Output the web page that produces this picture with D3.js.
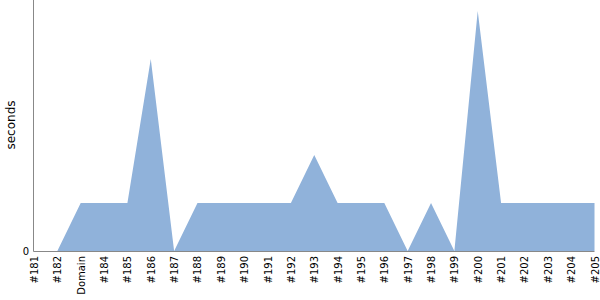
<!DOCTYPE html>
<html>
<head>
<meta charset="utf-8">
<script src="https://cdn.jsdelivr.net/npm/d3@7"></script>
<style>
  body { margin: 0; background: #fff; }
  .axis path { stroke: #888; }
</style>
</head>
<body>
<svg id="chart" width="600" height="300"></svg>
<script>
// builds, left to right
var builds = ["#181", "#182", "Domain", "#184", "#185", "#186", "#187", "#188", "#189",
  "#190", "#191", "#192", "#193", "#194", "#195", "#196", "#197", "#198", "#199",
  "#200", "#201", "#202", "#203", "#204", "#205"];

// duration per build (seconds)
var seconds = [0, 0, 1, 1, 1, 4, 0, 1, 1, 1, 1, 1, 2, 1, 1, 1, 0, 1, 0, 5, 1, 1, 1, 1, 1];

var yMax = 5.23;
var font = "DejaVu Sans";

var margin = { top: 0, right: 5, bottom: 49, left: 33 },
    width = 600 - margin.left - margin.right,
    height = 300 - margin.top - margin.bottom;

var svg = d3.select("#chart");
var g = svg.append("g")
  .attr("transform", "translate(" + margin.left + "," + margin.top + ")");

var x = d3.scalePoint()
  .domain(builds)
  .range([1, width - 0.5]);

var y = d3.scaleLinear()
  .domain([0, yMax])
  .range([height, 0]);

var rows = builds.map(function (b, i) { return { build: b, value: seconds[i] }; });

var area = d3.area()
  .x(function (d) { return x(d.build); })
  .y0(height)
  .y1(function (d) { return y(d.value); });

g.append("path")
  .datum(rows)
  .attr("fill", "#90b2da")
  .attr("d", area);

// x axis
var xAxis = g.append("g")
  .attr("class", "axis")
  .attr("transform", "translate(0," + height + ")")
  .call(d3.axisBottom(x).tickSize(0).tickPadding(0))
  .attr("font-family", font)
  .attr("font-size", 10);
xAxis.select(".domain").attr("d", "M0.5,0.5H" + (width - 0.5));
xAxis.selectAll("text")
  .attr("fill", "#000")
  .attr("transform", "rotate(-90)")
  .attr("text-anchor", "end")
  .attr("x", -5)
  .attr("y", 0)
  .attr("dy", "0.35em");

// y axis
var yAxis = g.append("g")
  .attr("class", "axis")
  .call(d3.axisLeft(y).tickValues([0]).tickFormat(d3.format("d")).tickSize(0).tickPadding(4))
  .attr("font-family", font)
  .attr("font-size", 10);
yAxis.selectAll("text").attr("fill", "#000");
yAxis.select(".domain").attr("d", "M0.5,0V" + (height + 0.5));

svg.append("text")
  .attr("transform", "translate(15," + 125 + ") rotate(-90)")
  .attr("text-anchor", "middle")
  .attr("font-family", font)
  .attr("font-size", 12)
  .text("seconds");
</script>
</body>
</html>
